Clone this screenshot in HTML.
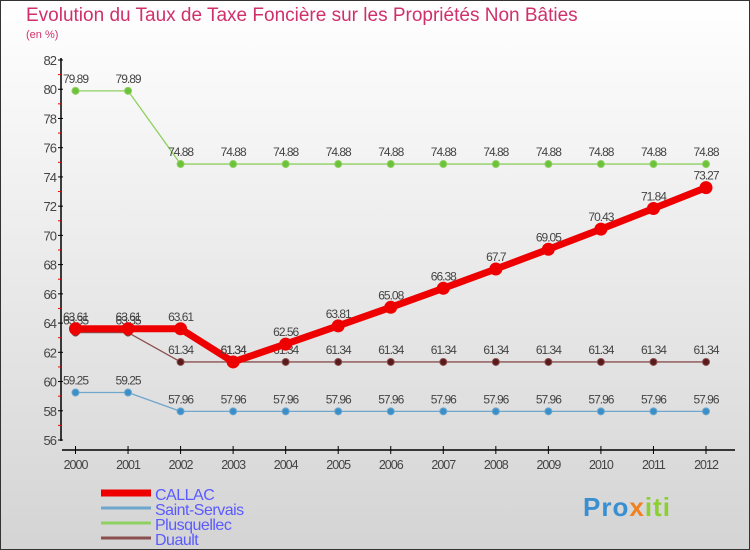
<!DOCTYPE html>
<html><head><meta charset="utf-8"><style>
body{margin:0}
#c{width:750px;height:550px;position:relative;overflow:hidden;font-family:"Liberation Sans",sans-serif;box-sizing:border-box;border:1px solid #333;background:linear-gradient(#ffffff,#d4d4d4)}
</style></head><body>
<div id="c">
<svg id="s" width="750" height="550" style="position:absolute;left:-1px;top:-1px">
<text x="26" y="21" font-size="19" fill="#d0306a">Evolution du Taux de Taxe Foncière sur les Propriétés Non Bâties</text>
<text x="26" y="38" font-size="11" fill="#d0306a">(en %)</text>
</svg>
</div>
<script>
const years=[2000,2001,2002,2003,2004,2005,2006,2007,2008,2009,2010,2011,2012];
const callac=[63.61,63.61,63.61,61.34,62.56,63.81,65.08,66.38,67.7,69.05,70.43,71.84,73.27];
const saintServais=[59.25,59.25,57.96,57.96,57.96,57.96,57.96,57.96,57.96,57.96,57.96,57.96,57.96];
const plusquellec=[79.89,79.89,74.88,74.88,74.88,74.88,74.88,74.88,74.88,74.88,74.88,74.88,74.88];
const duault=[63.35,63.35,61.34,61.34,61.34,61.34,61.34,61.34,61.34,61.34,61.34,61.34,61.34];
const yTicks=[56,58,60,62,64,66,68,70,72,74,76,78,80,82];
const seriesNames=["CALLAC","Saint-Servais","Plusquellec","Duault"];
const svg=document.getElementById('s');const NS="http://www.w3.org/2000/svg";
function X(i){return 75.5+i*(706-75.5)/(years.length-1);}
function Y(v){return 440-(v-56)*(380/26);}
function mk(t,a,p){const e=document.createElementNS(NS,t);for(const k in a)e.setAttribute(k,a[k]);(p||svg).appendChild(e);return e;}
function fmt(v){return String(v);}
// axes
let ax=mk('line',{x1:61,y1:58,x2:61,y2:441,stroke:'#000','stroke-width':1.5});

let xa=mk('line',{x1:62,y1:450,x2:735,y2:450,stroke:'#000','stroke-width':1.5});

yTicks.forEach(v=>{const y=Y(v);
 mk('line',{x1:58,y1:y,x2:63,y2:y,stroke:'#000'});
 if(v<82){const m=mk('line',{x1:58,y1:Y(v+1),x2:61,y2:Y(v+1),stroke:'#e00'});}
 const t=mk('text',{x:56,y:y+5,'font-size':13,fill:'#444','text-anchor':'end','letter-spacing':'-1'});t.textContent=v;
 });
years.forEach((yr,i)=>{const x=X(i);mk('line',{x1:x,y1:446,x2:x,y2:454,stroke:'#000'});
 const t=mk('text',{x:x,y:469,'font-size':12.5,fill:'#444','text-anchor':'middle','letter-spacing':'-1'});t.textContent=yr;
 });
function series(vals,color,dot,w,r,name){
 const g=mk('g',{});
 mk('polyline',{points:vals.map((v,i)=>X(i)+','+Y(v)).join(' '),fill:'none',stroke:color,'stroke-width':w,'stroke-linejoin':'round'},g);
 vals.forEach((v,i)=>{const c=mk('circle',{cx:X(i),cy:Y(v),r:r,fill:dot,stroke:color,'stroke-width':1},g);
  
  const t=mk('text',{x:X(i),y:Y(v)-8,'font-size':12,fill:'#444','text-anchor':'middle','letter-spacing':'-1'},g);t.textContent=fmt(v);});
}
series(plusquellec,'#8fd060','#6cc23a',1.3,3.5,'plusquellec');
series(saintServais,'#6fa6cc','#3b8fc9',1.3,3.5,'saint-servais');
series(duault,'#8a5050','#5a1a1a',1.3,3.5,'duault');
series(callac,'#ee0000','#ee0000',7,6,'callac');
// legend
const lc=['#ee0000','#6fa6cc','#8fd060','#8a5050'],lw=[7,3,3,3];
seriesNames.forEach((n,i)=>{const y=493+i*15;
 const g=mk('g',{});
 mk('line',{x1:101,y1:y,x2:151,y2:y,stroke:lc[i],'stroke-width':lw[i]},g);
 const t=mk('text',{x:155,y:y+7,'font-size':16,fill:'#5a5aff','letter-spacing':'-0.5'},g);t.textContent=n;});
const lg=mk('text',{x:583,y:516,'font-size':26,'font-weight':'bold','letter-spacing':'1'});

[['Pro','#3a8fd0'],['x','#f08020'],['iti','#8ccf30']].forEach(p=>{const s=mk('tspan',{fill:p[1]},lg);s.textContent=p[0];});
</script>
</body></html>
